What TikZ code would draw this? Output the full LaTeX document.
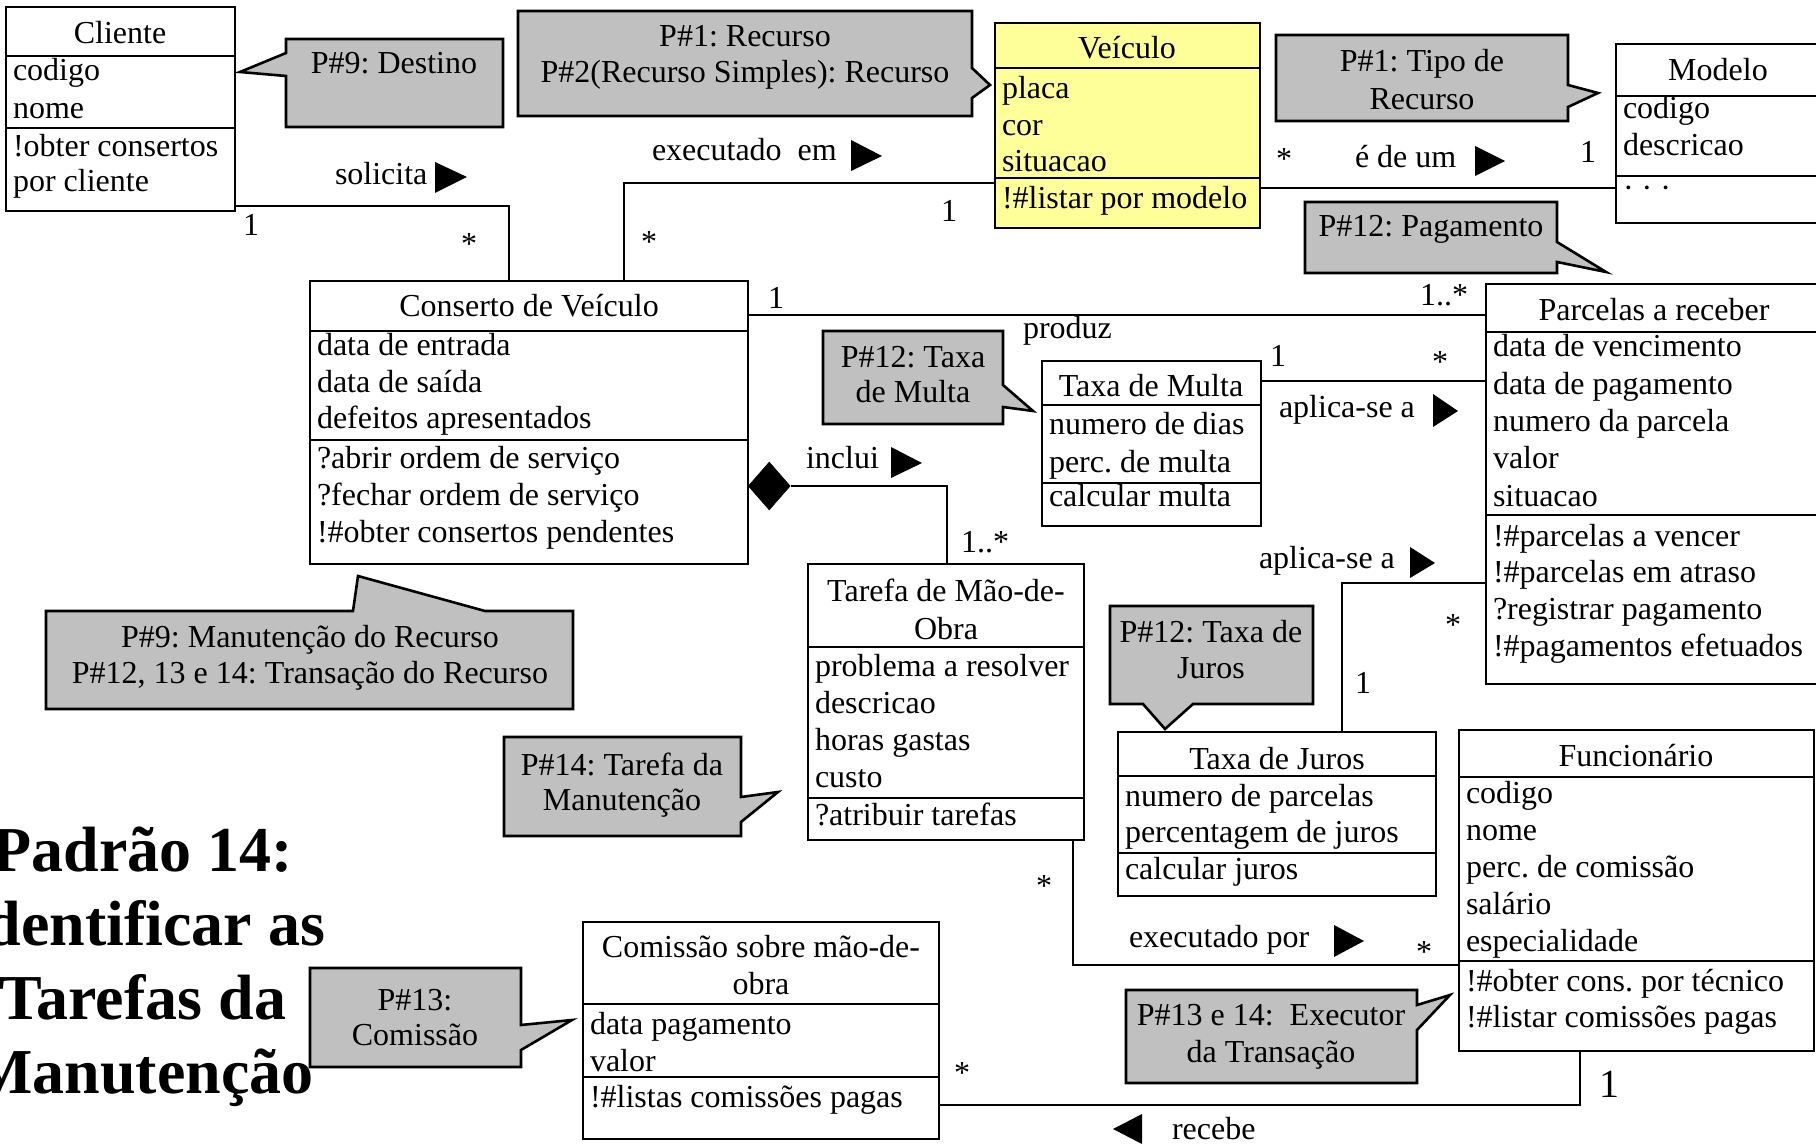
\documentclass[tikz,border=0pt]{standalone}
\usepackage{fontspec}
\setmainfont{Liberation Serif}
\usetikzlibrary{shapes.geometric}
\definecolor{notegray}{HTML}{C0C0C0}
\definecolor{classyellow}{HTML}{FFFF99}
\frenchspacing
\tikzset{
  txt/.style={font=\fontsize{32}{37}\selectfont, inner sep=0pt, outer sep=0pt},
  item/.style={txt, anchor=base west},
  ctr/.style={txt, anchor=base},
  umlclass/.style={draw, line width=2.6pt, fill=white, anchor=north west, inner sep=0pt, outer sep=0pt},
  sep/.style={line width=2.6pt},
  conn/.style={line width=2.6pt},
  note/.style={draw, line width=2.6pt, fill=notegray, line join=miter},
  heading/.style={font=\fontsize{64}{74}\selectfont\bfseries, inner sep=0pt, anchor=base},
}
\begin{document}
\begin{tikzpicture}[x=1pt,y=-1pt]
\useasboundingbox (0,0) rectangle (1816,1147);
\clip (0,0) rectangle (1816,1147);

% ---------- heading ----------
\node[heading] (h1) at (143,871) {Padrão 14:};
\node[heading] (h2) at (143,945) {Identificar as};
\node[heading] (h3) at (143,1019) {Tarefas da};
\node[heading] (h4) at (143,1093) {Manutenção};

% ---------- notes ----------
% P#9: Destino
\draw[note] (286,39) -- (503,39) -- (503,127) -- (286,127) -- (286,76) -- (240,72) -- (286,53) -- cycle;
\node[ctr] (n1) at (394,74) {P\#9: Destino};
% P#1 / P#2
\draw[note] (518,11) -- (972,11) -- (972,68) -- (990,85) -- (972,98) -- (972,116) -- (518,116) -- cycle;
\node[ctr] (n2a) at (745,47) {P\#1: Recurso};
\node[ctr] (n2b) at (745,83) {P\#2(Recurso Simples): Recurso};
% P#1: Tipo de Recurso
\draw[note] (1276,35) -- (1568,35) -- (1568,85) -- (1598,93) -- (1568,107) -- (1568,121) -- (1276,121) -- cycle;
\node[ctr] (n3a) at (1422,72) {P\#1: Tipo de};
\node[ctr] (n3b) at (1422,110) {Recurso};
% P#12: Pagamento
\draw[note] (1305,202) -- (1557,202) -- (1557,242) -- (1606,272) -- (1557,262) -- (1557,273) -- (1305,273) -- cycle;
\node[ctr] (n4) at (1431,237) {P\#12: Pagamento};
% P#12: Taxa de Multa
\draw[note] (823,331) -- (1003,331) -- (1003,385) -- (1033,411) -- (1003,407) -- (1003,424) -- (823,424) -- cycle;
\node[ctr] (n5a) at (913,368) {P\#12: Taxa};
\node[ctr] (n5b) at (913,403) {de Multa};
% P#12: Taxa de Juros
\draw[note] (1110,606) -- (1313,606) -- (1313,704) -- (1193,704) -- (1165,729) -- (1143,704) -- (1110,704) -- cycle;
\node[ctr] (n6a) at (1211,642) {P\#12: Taxa de};
\node[ctr] (n6b) at (1211,678) {Juros};
% P#9 / P#12, 13 e 14
\draw[note] (46,611) -- (353,611) -- (358,576) -- (485,611) -- (573,611) -- (573,709) -- (46,709) -- cycle;
\node[ctr] (n7a) at (310,647) {P\#9: Manutenção do Recurso};
\node[ctr] (n7b) at (310,683) {P\#12, 13 e 14: Transação do Recurso};
% P#14
\draw[note] (504,737) -- (741,737) -- (741,797) -- (778,792) -- (741,822) -- (741,836) -- (504,836) -- cycle;
\node[ctr] (n8a) at (622,775) {P\#14: Tarefa da};
\node[ctr] (n8b) at (622,810) {Manutenção};
% P#13
\draw[note] (310,968) -- (521,968) -- (521,1025) -- (572,1020) -- (521,1050) -- (521,1067) -- (310,1067) -- cycle;
\node[ctr] (n9a) at (415,1010) {P\#13:};
\node[ctr] (n9b) at (415,1045) {Comissão};
% P#13 e 14
\draw[note] (1126,990) -- (1417,990) -- (1417,1005) -- (1450,995) -- (1417,1030) -- (1417,1083) -- (1126,1083) -- cycle;
\node[ctr] (n10a) at (1271,1025) {P\#13 e 14:~~Executor};
\node[ctr] (n10b) at (1271,1062) {da Transação};

% ---------- classes ----------
% Cliente
\node[umlclass, minimum width=229pt, minimum height=204pt] (cliente) at (6,7) {};
\draw[sep] (cliente.west |- 0,56) -- (cliente.east |- 0,56);
\draw[sep] (cliente.west |- 0,128) -- (cliente.east |- 0,128);
\node[ctr] (cli-t) at (120,44) {Cliente};
\node[item] (cli-a1) at (13,81) {codigo};
\node[item] (cli-a2) at (13,119) {nome};
\node[item] (cli-m1) at (13,157) {!obter consertos};
\node[item] (cli-m2) at (13,192) {por cliente};

% Veículo
\node[umlclass, fill=classyellow, minimum width=265pt, minimum height=205pt] (veiculo) at (995,23) {};
\draw[sep] (veiculo.west |- 0,68) -- (veiculo.east |- 0,68);
\draw[sep] (veiculo.west |- 0,178) -- (veiculo.east |- 0,178);
\node[ctr] (vei-t) at (1127,59) {Veículo};
\foreach \s [count=\i from 0] in {placa,cor,situacao}
  \node[item] (vei-a\i) at (1002,{99+36.5*\i}) {\s};
\node[item] (vei-m1) at (1002,209) {!\#listar por modelo};

% Modelo
\node[umlclass, minimum width=204pt, minimum height=179pt] (modelo) at (1616,44) {};
\draw[sep] (modelo.west |- 0,96) -- (modelo.east |- 0,96);
\draw[sep] (modelo.west |- 0,176) -- (modelo.east |- 0,176);
\node[ctr] (mod-t) at (1718,81) {Modelo};
\node[item] (mod-a1) at (1623,119) {codigo};
\node[item] (mod-a2) at (1623,156) {descricao};
\node[item] (mod-m1) at (1623,199) {· · ·};

% Conserto de Veículo
\node[umlclass, minimum width=438pt, minimum height=283pt] (conserto) at (310,281) {};
\draw[sep] (conserto.west |- 0,331) -- (conserto.east |- 0,331);
\draw[sep] (conserto.west |- 0,440) -- (conserto.east |- 0,440);
\node[ctr] (con-t) at (529,317) {Conserto de Veículo};
\foreach \s [count=\i from 0] in {data de entrada,data de saída,defeitos apresentados}
  \node[item] (con-a\i) at (317,{356+36.5*\i}) {\s};
\foreach \s [count=\i from 0] in {?abrir ordem de serviço,?fechar ordem de serviço,!\#obter consertos pendentes}
  \node[item] (con-m\i) at (317,{468+37*\i}) {\s};

% Taxa de Multa
\node[umlclass, minimum width=219pt, minimum height=165pt] (multa) at (1042,361) {};
\draw[sep] (multa.west |- 0,405) -- (multa.east |- 0,405);
\draw[sep] (multa.west |- 0,483) -- (multa.east |- 0,483);
\node[ctr] (mul-t) at (1151,397) {Taxa de Multa};
\node[item] (mul-a1) at (1049,435) {numero de dias};
\node[item] (mul-a2) at (1049,472) {perc. de multa};
\node[item] (mul-m1) at (1049,507) {calcular multa};

% Tarefa de Mão-de-Obra
\node[umlclass, minimum width=276pt, minimum height=276pt] (tarefa) at (808,564) {};
\draw[sep] (tarefa.west |- 0,647) -- (tarefa.east |- 0,647);
\draw[sep] (tarefa.west |- 0,798) -- (tarefa.east |- 0,798);
\node[ctr] (tar-t1) at (946,601) {Tarefa de Mão-de-};
\node[ctr] (tar-t2) at (946,639) {Obra};
\foreach \s [count=\i from 0] in {problema a resolver,descricao,horas gastas,custo}
  \node[item] (tar-a\i) at (815,{676+37*\i}) {\s};
\node[item] (tar-m1) at (815,825) {?atribuir tarefas};

% Taxa de Juros
\node[umlclass, minimum width=318pt, minimum height=164pt] (juros) at (1118,732) {};
\draw[sep] (juros.west |- 0,776) -- (juros.east |- 0,776);
\draw[sep] (juros.west |- 0,853) -- (juros.east |- 0,853);
\node[ctr] (jur-t) at (1277,769) {Taxa de Juros};
\node[item] (jur-a1) at (1125,806) {numero de parcelas};
\node[item] (jur-a2) at (1125,842) {percentagem de juros};
\node[item] (jur-m1) at (1125,879) {calcular juros};

% Parcelas a receber
\node[umlclass, minimum width=336pt, minimum height=400pt] (parcelas) at (1486,284) {};
\draw[sep] (parcelas.west |- 0,332) -- (parcelas.east |- 0,332);
\draw[sep] (parcelas.west |- 0,515) -- (parcelas.east |- 0,515);
\node[ctr] (par-t) at (1654,321) {Parcelas a receber};
\foreach \s [count=\i from 0] in {data de vencimento,data de pagamento,numero da parcela,valor,situacao}
  \node[item] (par-a\i) at (1493,{357+37.25*\i}) {\s};
\foreach \s [count=\i from 0] in {!\#parcelas a vencer,!\#parcelas em atraso,?registrar pagamento,!\#pagamentos efetuados}
  \node[item] (par-m\i) at (1493,{546+36.7*\i}) {\s};

% Funcionário
\node[umlclass, minimum width=355pt, minimum height=321pt] (func) at (1459,730) {};
\draw[sep] (func.west |- 0,777) -- (func.east |- 0,777);
\draw[sep] (func.west |- 0,961) -- (func.east |- 0,961);
\node[ctr] (fun-t) at (1636,766) {Funcionário};
\foreach \s [count=\i from 0] in {codigo,nome,perc. de comissão,salário,especialidade}
  \node[item] (fun-a\i) at (1466,{803+37*\i}) {\s};
\node[item] (fun-m1) at (1466,991) {!\#obter cons. por técnico};
\node[item] (fun-m2) at (1466,1027) {!\#listar comissões pagas};

% Comissão sobre mão-de-obra
\node[umlclass, minimum width=356pt, minimum height=217pt] (comissao) at (583,922) {};
\draw[sep] (comissao.west |- 0,1004) -- (comissao.east |- 0,1004);
\draw[sep] (comissao.west |- 0,1077) -- (comissao.east |- 0,1077);
\node[ctr] (com-t1) at (761,957) {Comissão sobre mão-de-};
\node[ctr] (com-t2) at (761,994) {obra};
\node[item] (com-a1) at (590,1034) {data pagamento};
\node[item] (com-a2) at (590,1071) {valor};
\node[item] (com-m1) at (590,1107) {!\#listas comissões pagas};

% ---------- associations ----------
% solicita
\draw[conn] (cliente.east |- 0,206) -| (conserto.north -| 509,0);
\node[item] (l-sol) at (335,185) {solicita};
\fill (435,162) -- (467,177) -- (435,193) -- cycle;
\node[ctr] (m-sol1) at (251,236) {1};
\node[ctr] (m-sol2) at (469,255) {*};

% executado em
\draw[conn] (conserto.north -| 624,0) |- (veiculo.west |- 0,183);
\node[item] (l-exe) at (652,161) {executado~~em};
\fill (851,140) -- (882,156) -- (851,171) -- cycle;
\node[ctr] (m-exe1) at (649,253) {*};
\node[ctr] (m-exe2) at (949,222) {1};

% é de um
\draw[conn] (veiculo.east |- 0,188) -- (modelo.west |- 0,188);
\node[item] (l-mod) at (1355,168) {é de um};
\fill (1475,146) -- (1505,161) -- (1475,176) -- cycle;
\node[ctr] (m-mod1) at (1284,170) {*};
\node[ctr] (m-mod2) at (1588,163) {1};

% produz
\draw[conn] (conserto.east |- 0,315) -- (parcelas.west |- 0,315);
\node[item] (l-pro) at (1023,339) {produz};
\node[ctr] (m-pro1) at (776,309) {1};
\node[ctr] (m-pro2) at (1444,306) {1..*};

% aplica-se a (multa)
\draw[conn] (multa.east |- 0,381) -- (parcelas.west |- 0,381);
\node[item] (l-apm) at (1279,418) {aplica-se a};
\fill (1433,394) -- (1458,411) -- (1433,427) -- cycle;
\node[ctr] (m-apm1) at (1278,367) {1};
\node[ctr] (m-apm2) at (1440,373) {*};

% inclui (composition)
\node[diamond, fill, draw, line width=0.5pt, minimum width=42pt, minimum height=48pt, inner sep=0pt, anchor=west] (dia) at (conserto.east |- 0,486) {};
\draw[conn] (dia.east) -| (tarefa.north -| 947,0);
\node[item] (l-inc) at (806,468) {inclui};
\fill (891,447) -- (922,463) -- (891,478) -- cycle;
\node[ctr] (m-inc) at (985,552) {1..*};

% aplica-se a (juros)
\draw[conn] (juros.north -| 1342,0) |- (parcelas.west |- 0,583);
\node[item] (l-apj) at (1259,568) {aplica-se a};
\fill (1410,547) -- (1435,563) -- (1410,578) -- cycle;
\node[ctr] (m-apj1) at (1453,635) {*};
\node[ctr] (m-apj2) at (1363,693) {1};

% executado por
\draw[conn] (tarefa.south -| 1073,0) |- (func.west |- 0,965);
\node[item] (l-epo) at (1129,947) {executado por};
\fill (1334,925) -- (1364,941) -- (1334,957) -- cycle;
\node[ctr] (m-epo1) at (1044,896) {*};
\node[ctr] (m-epo2) at (1424,962) {*};

% recebe
\draw[conn] (func.south -| 1580,0) |- (comissao.east |- 0,1105);
\fill (1142,1114) -- (1113,1129) -- (1142,1144) -- cycle;
\node[item] (l-rec) at (1172,1139) {recebe};
\node[ctr] (m-rec1) at (962,1083) {*};
\node[ctr, font=\fontsize{40}{46}\selectfont] (m-rec2) at (1609,1097) {1};

\end{tikzpicture}
\end{document}
